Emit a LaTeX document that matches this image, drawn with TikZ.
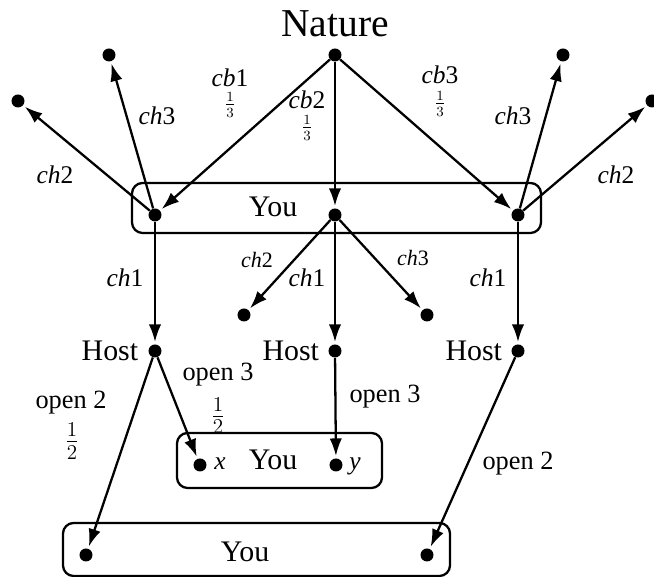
\documentclass[tikz,border=0pt]{standalone}
\usepackage{fontspec}
\setmainfont{Liberation Serif}
\usepackage{tikz}
\usetikzlibrary{arrows.meta,positioning}

\tikzset{
  dot/.style={circle, fill=black, inner sep=0pt, minimum size=7.4pt},
  move/.style={-{Latex[length=10pt,width=7pt]}, line width=1.3pt, shorten >=1.2pt},
  infoset/.style={rounded corners=6pt, line width=1.3pt},
  natlbl/.style={font=\fontsize{22.5}{26}\selectfont, inner sep=0pt},
  playerlbl/.style={font=\fontsize{17}{20}\selectfont, inner sep=0pt},
  movelbl/.style={font=\fontsize{14.5}{17}\selectfont, inner sep=0pt},
  smalllbl/.style={font=\fontsize{12.5}{15}\selectfont, inner sep=0pt},
  openlbl/.style={font=\fontsize{15}{18}\selectfont, inner sep=0pt},
  thirdlbl/.style={font=\fontsize{12}{14}\selectfont, inner sep=0pt},
  halflbl/.style={font=\fontsize{16.5}{19}\selectfont, inner sep=0pt}
}

\begin{document}
\begin{tikzpicture}[x=0.02cm, y=-0.02cm]
\useasboundingbox (0,0) rectangle (654,577);

\draw[infoset] (132,183) rectangle (541,233);
\draw[infoset] (177,433) rectangle (382,488);
\draw[infoset] (63,523) rectangle (450,576);

\node[dot] (nature) at (335,55) {};
\node[natlbl, anchor=base] (naturetxt) at (335,37) {Nature};

\node[dot] (youL) at (155,215) {};
\node[dot] (youM) at (335,215) {};
\node[dot] (youR) at (518,215) {};
\node[playerlbl, anchor=base] (youtxt) at (273,217) {You};

\node[dot] (endLa) at (18,101) {};
\node[dot] (endLb) at (109,55) {};
\node[dot] (endRb) at (563,55) {};
\node[dot] (endRa) at (652,101) {};
\node[dot] (endMa) at (244,315) {};
\node[dot] (endMb) at (427,315) {};

\node[dot] (hostL) at (155,351) {};
\node[dot] (hostM) at (335,351) {};
\node[dot] (hostR) at (518,351) {};
\node[playerlbl, left=5.5pt of hostL] (hostLtxt) {Host};
\node[playerlbl, left=5pt of hostM] (hostMtxt) {Host};
\node[playerlbl, left=5pt of hostR] (hostRtxt) {Host};

\node[dot] (xnode) at (200,465) {};
\node[dot] (ynode) at (336,465) {};
\node[movelbl, anchor=base] (xtxt) at (220,470) {\textit{x}};
\node[movelbl, anchor=base] (ytxt) at (355,470) {\textit{y}};
\node[playerlbl, anchor=base] (youmidtxt) at (273,470) {You};

\node[dot] (lastL) at (86,555) {};
\node[dot] (lastR) at (427,555) {};
\node[playerlbl, anchor=base] (youlasttxt) at (245,562) {You};

\draw[move] (nature) -- (youL);
\draw[move] (nature) -- (youM);
\draw[move] (nature) -- (youR);
\draw[move] (youL) -- (endLa);
\draw[move] (youL) -- (endLb);
\draw[move] (youR) -- (endRb);
\draw[move] (youR) -- (endRa);
\draw[move] (youL) -- (hostL);
\draw[move] (youM) -- (endMa);
\draw[move] (youM) -- (hostM);
\draw[move] (youM) -- (endMb);
\draw[move] (youR) -- (hostR);
\draw[move] (hostL) -- (lastL);
\draw[move] (hostL) -- (xnode);
\draw[move] (hostM) -- (ynode);
\draw[move] (hostR) -- (lastR);

\node[movelbl] (cb1) at (230,78) {\textit{cb}1};
\node[thirdlbl] (cb1p) at (230,105) {$\frac{1}{3}$};
\node[movelbl] (cb2) at (307,100) {\textit{cb}2};
\node[thirdlbl] (cb2p) at (307,128) {$\frac{1}{3}$};
\node[movelbl] (cb3) at (440,75) {\textit{cb}3};
\node[thirdlbl] (cb3p) at (440,104) {$\frac{1}{3}$};

\node[movelbl] (ch3L) at (157,116) {\textit{ch}3};
\node[movelbl] (ch2L) at (55,175) {\textit{ch}2};
\node[movelbl] (ch3R) at (513,116) {\textit{ch}3};
\node[movelbl] (ch2R) at (616,175) {\textit{ch}2};
\node[movelbl] (ch1L) at (125,278) {\textit{ch}1};
\node[smalllbl] (ch2M) at (257,260) {\textit{ch}2};
\node[movelbl] (ch1M) at (307,278) {\textit{ch}1};
\node[smalllbl] (ch3M) at (413,258) {\textit{ch}3};
\node[movelbl] (ch1R) at (488,278) {\textit{ch}1};

\node[openlbl] (open2L) at (71,403) {open 2};
\node[halflbl] (open2Lp) at (72,441) {$\frac{1}{2}$};
\node[openlbl] (open3L) at (218,375) {open 3};
\node[halflbl] (open3Lp) at (218,416) {$\frac{1}{2}$};
\node[openlbl] (open3M) at (385,397) {open 3};
\node[openlbl] (open2R) at (518,464) {open 2};
\end{tikzpicture}
\end{document}
